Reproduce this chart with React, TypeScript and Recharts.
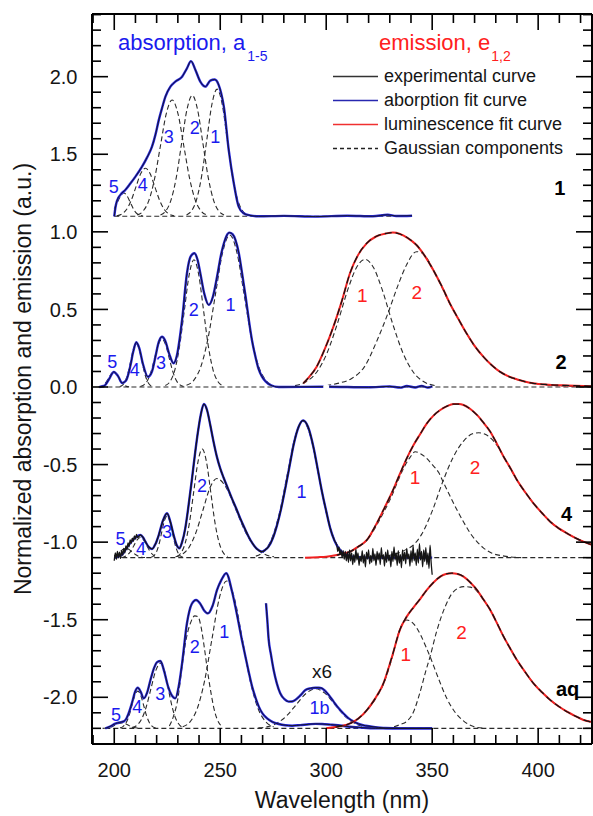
import { ComposedChart, Line, Scatter, XAxis, YAxis } from 'recharts'

type Pt = [number, number]
type Lbl = [number, number, string]

const FONT = '"Liberation Sans", Arial, Helvetica, sans-serif'
const BLUE_LINE = '#2424e0'
const BLUE_TEXT = '#1a1aee'
const RED_LINE = '#f02020'
const RED_TEXT = '#ff2020'
const INK = '#151515'
const DASH = '#2a2a2a'

// vertical offsets of the stacked spectra (1, 2, 4, aq)
const OFF_1 = 1.1
const OFF_2 = 0
const OFF_4 = -1.1
const OFF_AQ = -2.2

const X_DOMAIN: [number, number] = [189.5, 425.4]
const Y_DOMAIN: [number, number] = [-2.301, 2.404]

const xMajor = [200, 250, 300, 350, 400]
const xMinor = [190, 200, 210, 220, 230, 240, 250, 260, 270, 280, 290, 300, 310, 320, 330, 340, 350, 360, 370, 380, 390, 400, 410, 420]
const yMajor = [-2, -1.5, -1, -0.5, 0, 0.5, 1, 1.5, 2]
const yMinor = [-2.3, -2.2, -2.1, -2, -1.9, -1.8, -1.7, -1.6, -1.5, -1.4, -1.3, -1.2, -1.1, -1, -0.9, -0.8, -0.7, -0.6, -0.5, -0.4, -0.3, -0.2, -0.1, 0, 0.1, 0.2, 0.3, 0.4, 0.5, 0.6, 0.7, 0.8, 0.9, 1, 1.1, 1.2, 1.3, 1.4, 1.5, 1.6, 1.7, 1.8, 1.9, 2, 2.1, 2.2, 2.3, 2.4]

// ---- sample 1 (absorption only), heights above its baseline
const p1Fit: Pt[] = [[200, 0], [200.6, 0.06], [201.3, 0.1], [203, 0.14], [205.2, 0.17], [207.5, 0.21], [210, 0.256], [213.1, 0.32], [215.5, 0.38], [217.8, 0.449], [219.5, 0.53], [221, 0.62], [222.6, 0.7], [224.1, 0.77], [226.5, 0.836], [228.8, 0.868], [232, 0.9], [234.3, 0.954], [236.2, 1.0], [238.3, 0.943], [240.6, 0.868], [243, 0.836], [245.3, 0.875], [247.4, 0.882], [249.3, 0.846], [250.5, 0.79], [251.7, 0.707], [254, 0.428], [256.4, 0.213], [258.7, 0.062], [261, 0.02], [264, 0.006], [268, 0], [280, 0.003], [295, -0.002], [310, 0.004], [322, 0], [329, 0.01], [333, 0.002], [340.5, 0.004]]
const p1C1: Pt[] = [[234.1, 0.009], [236.5, 0.036], [238.9, 0.111], [241.3, 0.266], [243.7, 0.497], [246.1, 0.724], [248.5, 0.82], [250.9, 0.724], [253.3, 0.497], [255.7, 0.266], [258.1, 0.111], [260.5, 0.036], [262.9, 0.009]]
const p1C2: Pt[] = [[221.8, 0.009], [224.3, 0.034], [226.8, 0.106], [229.3, 0.253], [231.8, 0.473], [234.3, 0.688], [236.8, 0.78], [239.3, 0.688], [241.8, 0.473], [244.3, 0.253], [246.8, 0.106], [249.3, 0.034], [251.8, 0.009]]
const p1C3: Pt[] = [[210.8, 0.008], [213.55, 0.033], [216.3, 0.101], [219.05, 0.244], [221.8, 0.455], [224.55, 0.662], [227.3, 0.75], [230.05, 0.662], [232.8, 0.455], [235.55, 0.244], [238.3, 0.101], [241.05, 0.033], [243.8, 0.008]]
const p1C4: Pt[] = [[201.2, 0.003], [203.45, 0.014], [205.7, 0.042], [207.95, 0.101], [210.2, 0.188], [212.45, 0.274], [214.7, 0.31], [216.95, 0.274], [219.2, 0.188], [221.45, 0.101], [223.7, 0.042], [225.95, 0.014], [228.2, 0.003]]
const p1C5: Pt[] = [[200, 0.049], [201.5, 0.091], [203, 0.132], [204.5, 0.15], [206, 0.132], [207.5, 0.091], [209, 0.049], [210.5, 0.02], [213.5, 0.002]]
const p1Base: Pt[] = [[200, 0], [340.5, 0]]

// ---- sample 2
const p2Fit: Pt[] = [[193, 0], [195.5, 0.01], [197.5, 0.05], [199.8, 0.097], [201.8, 0.07], [203.7, 0.026], [205.5, 0.04], [207.5, 0.13], [209, 0.23], [210.4, 0.288], [211.8, 0.25], [213.5, 0.15], [215.9, 0.066], [217.8, 0.1], [219.5, 0.2], [221, 0.29], [222.5, 0.324], [224, 0.3], [226, 0.21], [228, 0.153], [229.5, 0.2], [232, 0.432], [234.3, 0.733], [236, 0.84], [237.8, 0.862], [239.3, 0.82], [240.6, 0.733], [242.5, 0.6], [244.6, 0.529], [246.5, 0.58], [248.5, 0.711], [250.5, 0.86], [251.7, 0.925], [253, 0.975], [254.3, 0.995], [255.8, 0.985], [257.2, 0.947], [258.8, 0.86], [260.3, 0.733], [262, 0.58], [263.5, 0.432], [265, 0.3], [266.6, 0.196], [268, 0.12], [269.7, 0.067], [271.5, 0.035], [273.7, 0.013], [277.6, 0], [300, 0.002], [320, -0.002], [330, 0.004], [335, -0.004], [338, 0.006], [342, -0.003], [345, 0.007], [348, -0.004], [350, 0.005]]
const p2C1: Pt[] = [[234.1, 0.011], [237.5, 0.043], [240.9, 0.133], [244.3, 0.318], [247.7, 0.594], [251.1, 0.865], [254.5, 0.98], [257.9, 0.865], [261.3, 0.594], [264.7, 0.318], [268.1, 0.133], [271.5, 0.043], [274.9, 0.011]]
const p2C2: Pt[] = [[224.1, 0.009], [226.35, 0.036], [228.6, 0.111], [230.85, 0.266], [233.1, 0.497], [235.35, 0.724], [237.6, 0.82], [239.85, 0.724], [242.1, 0.497], [244.35, 0.266], [246.6, 0.111], [248.85, 0.036], [251.1, 0.009]]
const p2C3: Pt[] = [[212.3, 0.003], [214, 0.014], [215.7, 0.042], [217.4, 0.101], [219.1, 0.188], [220.8, 0.274], [222.5, 0.31], [224.2, 0.274], [225.9, 0.188], [227.6, 0.101], [229.3, 0.042], [231, 0.014], [232.7, 0.003]]
const p2C4: Pt[] = [[202.6, 0.003], [203.9, 0.012], [205.2, 0.038], [206.5, 0.091], [207.8, 0.17], [209.1, 0.247], [210.4, 0.28], [211.7, 0.247], [213, 0.17], [214.3, 0.091], [215.6, 0.038], [216.9, 0.012], [218.2, 0.003]]
const p2C5: Pt[] = [[192.6, 0.001], [193.8, 0.004], [195, 0.013], [196.2, 0.031], [197.4, 0.058], [198.6, 0.084], [199.8, 0.095], [201, 0.084], [202.2, 0.058], [203.4, 0.031], [204.6, 0.013], [205.8, 0.004], [207, 0.001]]
const p2Em: Pt[] = [[289.2, 0.024], [292, 0.065], [295.5, 0.131], [299.5, 0.25], [303.4, 0.389], [307.5, 0.56], [311.2, 0.733], [315, 0.85], [319.1, 0.926], [323.5, 0.97], [328.5, 0.99], [331.5, 0.995], [334.8, 0.986], [338.5, 0.96], [342.6, 0.915], [346.5, 0.845], [350.5, 0.754], [354.5, 0.65], [358.3, 0.54], [362.3, 0.44], [366.2, 0.346], [370, 0.265], [374.1, 0.196], [378, 0.142], [381.9, 0.099], [385.8, 0.07], [389.8, 0.05], [393.6, 0.035], [397.6, 0.024], [405, 0.015], [413.3, 0.01], [425.9, 0.005]]
const p2E1: Pt[] = [[285.3, 0.009], [290.3, 0.032], [295.3, 0.092], [300.3, 0.216], [305.3, 0.41], [310.3, 0.632], [314.3, 0.77], [318.3, 0.823], [322.3, 0.77], [326.3, 0.632], [331.3, 0.41], [336.3, 0.216], [341.3, 0.092], [346.3, 0.032], [351.3, 0.009]]
const p2E2: Pt[] = [[300, 0.01], [306, 0.025], [312, 0.055], [318, 0.13], [324, 0.3], [329, 0.47], [334, 0.66], [338, 0.79], [342.6, 0.872], [345, 0.865], [348, 0.82], [351, 0.74], [354.5, 0.645], [358.3, 0.538], [362.3, 0.44], [366.2, 0.346], [370, 0.265], [374.1, 0.196], [381.9, 0.099], [389.8, 0.05], [397.6, 0.024], [405, 0.012], [413.3, 0.006], [425, 0.002]]
const p2Base: Pt[] = [[193, 0], [425.9, 0]]

// ---- sample 4
const p4Fit: Pt[] = [[200.2, 0], [202, 0.01], [203.7, 0.02], [205.2, 0.05], [206.8, 0.082], [208.5, 0.11], [210.5, 0.135], [212.3, 0.146], [213.6, 0.13], [214.7, 0.103], [216.2, 0.07], [217.8, 0.056], [219.5, 0.09], [221, 0.146], [223, 0.24], [224.9, 0.286], [226.5, 0.23], [228, 0.146], [229.5, 0.08], [230.7, 0.06], [232, 0.1], [233.5, 0.189], [235, 0.33], [236.7, 0.511], [238.2, 0.68], [239.5, 0.812], [240.8, 0.92], [242.3, 0.99], [243.8, 0.95], [245.3, 0.855], [246.8, 0.75], [248.4, 0.651], [250, 0.575], [251.6, 0.515], [253.5, 0.45], [255.5, 0.382], [257.5, 0.318], [259.4, 0.254], [261.4, 0.193], [263.4, 0.135], [265.3, 0.09], [267.3, 0.056], [269.7, 0.039], [271.2, 0.05], [272.8, 0.071], [274.8, 0.125], [276.8, 0.21], [278.8, 0.32], [280.7, 0.447], [282.7, 0.59], [284.6, 0.726], [287, 0.844], [289.1, 0.885], [291.4, 0.844], [294.1, 0.705], [296, 0.57], [298, 0.425], [300, 0.3], [301.9, 0.189], [303.9, 0.11], [305.9, 0.06], [307.8, 0.032], [309.8, 0.017], [313, 0.005], [320, 0], [350, 0]]
// noisy recorded spectrum, 0.5 nm steps
const p4HeadStart = 200
const p4Head = [-0.02, 0.03, -0.01, 0.04, 0, 0.035, -0.005, 0.045, 0.015, 0.06, 0.03, 0.075, 0.05, 0.095, 0.07, 0.115, 0.09, 0.125, 0.105, 0.14, 0.12, 0.15, 0.13]
const p4TailStart = 305
const p4Tail = [0.08, 0.04, 0.07, 0.02, 0.05, 0, 0.045, -0.01, 0.04, -0.02, 0.035, -0.03, 0.05, -0.02, 0.03, -0.045, 0.02, -0.03, 0.055, -0.015, 0.03, -0.05, 0.01, -0.025, 0.045, -0.035, 0.02, -0.06, 0.035, -0.01, 0.05, -0.04, 0.015, -0.03, 0.06, -0.02, 0.025, -0.05, 0.04, -0.015, 0.03, -0.045, 0.065, -0.01, 0.02, -0.055, 0.035, -0.03, 0.05, -0.02, 0.015, -0.06, 0.04, -0.025, 0.07, -0.015, 0.03, -0.05, 0.045, -0.035, 0.02, -0.065, 0.05, -0.02, 0.035, -0.04, 0.06, -0.01, 0.025, -0.055, 0.045, -0.03, 0.075, -0.02, 0.03, -0.05, 0.055, -0.035, 0.09, -0.015, 0.04, -0.06, 0.05, -0.025, 0.065, -0.045, 0.03, -0.07, 0.08, -0.03, -0.11]
const p4C1: Pt[] = [[266.8, 0.01], [270.5, 0.039], [274.2, 0.119], [277.9, 0.286], [281.6, 0.534], [285.3, 0.777], [289, 0.88], [292.7, 0.777], [296.4, 0.534], [300.1, 0.286], [303.8, 0.119], [307.5, 0.039], [311.2, 0.01]]
const p4C2: Pt[] = [[229.5, 0.008], [231.5, 0.031], [233.5, 0.095], [235.5, 0.227], [237.5, 0.425], [239.5, 0.618], [241.5, 0.7], [243.5, 0.618], [245.5, 0.425], [247.5, 0.227], [249.5, 0.095], [251.5, 0.031], [253.5, 0.008]]
const p4C2b: Pt[] = [[228.9, 0.006], [232.15, 0.022], [235.4, 0.069], [238.65, 0.166], [241.9, 0.309], [245.15, 0.45], [248.4, 0.51], [252.9, 0.45], [257.4, 0.309], [261.9, 0.166], [266.4, 0.069], [270.9, 0.022], [275.4, 0.006]]
const p4C3: Pt[] = [[217.4, 0.003], [218.65, 0.012], [219.9, 0.037], [221.15, 0.088], [222.4, 0.164], [223.65, 0.238], [224.9, 0.27], [226.15, 0.238], [227.4, 0.164], [228.65, 0.088], [229.9, 0.037], [231.15, 0.012], [232.4, 0.003]]
const p4C4: Pt[] = [[203.3, 0.001], [204.8, 0.006], [206.3, 0.018], [207.8, 0.042], [209.3, 0.079], [210.8, 0.115], [212.3, 0.13], [213.8, 0.115], [215.3, 0.079], [216.8, 0.042], [218.3, 0.018], [219.8, 0.006], [221.3, 0.001]]
const p4C5: Pt[] = [[200, 0.011], [201, 0.02], [202.5, 0.036], [204, 0.053], [205.5, 0.06], [207, 0.053], [208.5, 0.036], [210, 0.02], [211.5, 0.008], [213, 0.003], [214.5, 0.001]]
const p4Em: Pt[] = [[290, 0], [296, 0.003], [300, 0.006], [305, 0.017], [308, 0.027], [311.3, 0.039], [315, 0.07], [319.2, 0.114], [323, 0.2], [327, 0.307], [331, 0.42], [334.9, 0.544], [338, 0.64], [341.2, 0.726], [344.5, 0.8], [347.5, 0.866], [350.5, 0.914], [353.8, 0.952], [357, 0.977], [360.1, 0.99], [362.5, 0.99], [364.8, 0.984], [368, 0.958], [371.1, 0.92], [374.2, 0.87], [377.4, 0.812], [380.5, 0.735], [383.7, 0.651], [387, 0.575], [390, 0.5], [394, 0.42], [397.8, 0.35], [401.8, 0.288], [405.7, 0.232], [409.6, 0.19], [413.6, 0.157], [417.5, 0.128], [421.4, 0.103], [425.9, 0.08]]
const p4E1: Pt[] = [[300, 0.006], [305, 0.015], [311, 0.037], [315, 0.068], [319, 0.11], [323, 0.19], [327, 0.29], [331, 0.4], [334, 0.5], [337, 0.59], [339.5, 0.645], [342, 0.683], [344.5, 0.67], [347, 0.645], [350, 0.6], [353, 0.55], [355.1, 0.49], [358.3, 0.4], [361.6, 0.31], [365, 0.225], [368, 0.157], [371, 0.105], [374, 0.065], [378, 0.03], [384, 0.01], [392, 0]]
const p4E2: Pt[] = [[325, 0.005], [330, 0.015], [335, 0.035], [338, 0.055], [341, 0.08], [345, 0.15], [350, 0.3], [355, 0.49], [360, 0.65], [365, 0.755], [369, 0.798], [372, 0.805], [375, 0.795], [378, 0.765], [381, 0.715], [384, 0.645], [387, 0.57], [390, 0.5], [394, 0.42], [397.8, 0.35], [401.8, 0.288], [405.7, 0.232], [409.6, 0.19], [413.6, 0.157], [417.5, 0.128], [421.4, 0.103], [425.9, 0.08]]
const p4Base: Pt[] = [[200, 0], [425.9, 0]]

// ---- aqueous sample
const aqFit: Pt[] = [[195.8, 0], [198, 0.012], [200.5, 0.03], [202.5, 0.038], [204.5, 0.045], [205.8, 0.065], [206.8, 0.097], [208.5, 0.17], [209.8, 0.235], [211.1, 0.262], [212.5, 0.235], [213.9, 0.193], [215.5, 0.23], [217.05, 0.31], [218.8, 0.39], [220.3, 0.428], [221.8, 0.434], [223.5, 0.37], [225.4, 0.269], [227, 0.215], [228.8, 0.193], [230.4, 0.27], [232, 0.419], [234.3, 0.677], [236.5, 0.8], [238.6, 0.827], [240.5, 0.805], [242.4, 0.76], [244.2, 0.741], [246.4, 0.79], [248.5, 0.892], [250.5, 0.955], [252.8, 1.0], [255.6, 0.88], [257.2, 0.78], [258.7, 0.677], [260.3, 0.565], [261.9, 0.462], [263.5, 0.36], [265.05, 0.269], [266.6, 0.2], [268.2, 0.14], [270, 0.095], [272.1, 0.064], [274.8, 0.04], [277.6, 0.028], [280.7, 0.02], [283.9, 0.017], [287.8, 0.021], [291.8, 0.026], [295, 0.029], [298, 0.028], [302, 0.024], [307.5, 0.017], [311, 0.01], [315.3, 0.006], [323.2, 0], [350, 0]]
const aqX6: Pt[] = [[271.6, 0.806], [272.2, 0.7], [272.8, 0.58], [274, 0.47], [275.2, 0.376], [276.7, 0.29], [278.3, 0.226], [280.3, 0.188], [282.3, 0.172], [283.9, 0.173], [285.4, 0.183], [287.8, 0.212], [290.2, 0.247], [292.6, 0.258], [294.9, 0.262], [296.5, 0.262], [298, 0.258], [299.6, 0.24], [301.2, 0.215], [303.5, 0.172], [305.9, 0.129], [308.2, 0.095], [310.6, 0.064], [313, 0.043], [315.3, 0.028], [318.5, 0.017], [321.6, 0.011], [327.9, 0.002], [335, 0], [350, 0]]
const aqC1: Pt[] = [[232.3, 0.01], [235.75, 0.042], [239.2, 0.129], [242.65, 0.308], [246.1, 0.576], [249.55, 0.838], [253, 0.95], [256.7, 0.838], [260.4, 0.576], [264.1, 0.308], [267.8, 0.129], [271.5, 0.042], [275.2, 0.01]]
const aqC1b: Pt[] = [[268, 0.003], [272.5, 0.011], [277, 0.035], [281.5, 0.083], [286, 0.155], [290.5, 0.225], [295, 0.255], [299.5, 0.225], [304, 0.155], [308.5, 0.083], [313, 0.035], [317.5, 0.011], [322, 0.003]]
const aqC2: Pt[] = [[226, 0.015], [228, 0.08], [230, 0.19], [232, 0.4], [234, 0.58], [236, 0.68], [238, 0.725], [239.5, 0.72], [241, 0.65], [242.5, 0.52], [244, 0.37], [245.5, 0.24], [247, 0.13], [248.5, 0.06], [250.5, 0.015]]
const aqC3: Pt[] = [[208.3, 0.005], [210.55, 0.018], [212.8, 0.057], [215.05, 0.136], [217.3, 0.255], [219.55, 0.371], [221.8, 0.42], [223.65, 0.371], [225.5, 0.255], [227.35, 0.136], [229.2, 0.057], [231.05, 0.018], [232.9, 0.005]]
const aqC4: Pt[] = [[202.7, 0.003], [204.1, 0.011], [205.5, 0.033], [206.9, 0.078], [208.3, 0.146], [209.7, 0.212], [211.1, 0.24], [212.5, 0.212], [213.9, 0.146], [215.3, 0.078], [216.7, 0.033], [218.1, 0.011], [219.5, 0.003]]
const aqC5: Pt[] = [[194.5, 0], [196, 0.002], [197.5, 0.005], [199, 0.011], [200.5, 0.021], [202, 0.031], [203.5, 0.035], [205, 0.031], [206.5, 0.021], [208, 0.011], [209.5, 0.005], [211, 0.002], [212.5, 0]]
const aqEm: Pt[] = [[300, 0], [304.4, 0.008], [307.5, 0.016], [311.3, 0.032], [315.3, 0.065], [319.2, 0.118], [323, 0.19], [327, 0.29], [331, 0.46], [334.9, 0.64], [338, 0.72], [341.2, 0.78], [344.4, 0.835], [347.5, 0.892], [350.6, 0.94], [353.8, 0.978], [356.5, 0.995], [359.3, 1.0], [362, 0.995], [364.8, 0.978], [368, 0.94], [371.1, 0.892], [374.2, 0.83], [377.4, 0.763], [380.5, 0.68], [383.7, 0.591], [386.8, 0.515], [390, 0.44], [394, 0.36], [397.8, 0.29], [401.8, 0.232], [405.7, 0.183], [409.6, 0.142], [413.6, 0.107], [417.5, 0.079], [421.4, 0.054], [425.9, 0.039]]
const aqE1: Pt[] = [[300, 0], [304.4, 0.008], [307.5, 0.016], [311.3, 0.031], [315.3, 0.063], [319.2, 0.115], [323, 0.185], [327, 0.285], [331, 0.45], [334.9, 0.645], [338, 0.698], [341, 0.677], [344.5, 0.603], [347, 0.527], [349, 0.462], [353, 0.32], [357, 0.19], [361, 0.1], [365, 0.045], [369.5, 0.012], [375, 0]]
const aqE2: Pt[] = [[332, 0.01], [335, 0.025], [338, 0.045], [341, 0.1], [344, 0.22], [347, 0.37], [349, 0.462], [352, 0.62], [356, 0.78], [360, 0.88], [364.8, 0.913], [368, 0.91], [371.1, 0.885], [374.2, 0.83], [377.4, 0.763], [380.5, 0.68], [383.7, 0.591], [386.8, 0.515], [390, 0.44], [394, 0.36], [397.8, 0.29], [401.8, 0.232], [405.7, 0.183], [409.6, 0.142], [413.6, 0.107], [417.5, 0.079], [421.4, 0.054], [425.9, 0.039]]
const aqBase: Pt[] = [[195.8, 0], [425.9, 0]]

// ---- annotations, in axis units
const absLabels: Lbl[] = [
  [199.8, 1.291, '5'], [213.4, 1.302, '4'], [225.7, 1.613, '3'], [238, 1.669, '2'], [247.7, 1.613, '1'],
  [199, 0.163, '5'], [209.7, 0.11, '4'], [222.1, 0.157, '3'], [237.5, 0.496, '2'], [254.8, 0.529, '1'],
  [202.9, -0.98, '5'], [212.6, -1.044, '4'], [224.9, -0.937, '3'], [241.4, -0.636, '2'], [288.3, -0.675, '1'],
  [200.8, -2.114, '5'], [210.8, -2.06, '4'], [221.7, -1.981, '3'], [238, -1.678, '2'], [251.9, -1.577, '1'], [296.9, -2.071, '1b'],
]
const emLabels: Lbl[] = [
  [317, 0.587, '1'], [342.7, 0.608, '2'],
  [341.9, -0.582, '1'], [370.2, -0.518, '2'],
  [337.6, -1.721, '1'], [363.9, -1.581, '2'],
]
const sampleLabels: Lbl[] = [[410.2, 1.281, '1'], [410.8, 0.163, '2'], [413.4, -0.819, '4'], [413.9, -1.946, 'aq']]
const noteLabels: Lbl[] = [[298, -1.835, 'x6']]

const grid = (x0: number, ys: number[]): Pt[] => ys.map((y, i) => [x0 + i * 0.5, y])
const p4Exp: Pt[] = [...grid(p4HeadStart, p4Head), ...p4Fit.filter(([x]) => x > 211 && x < 305), ...grid(p4TailStart, p4Tail)]

const rows = (pts: Pt[], off: number) => pts.map(([x, y]) => ({ x, y: y + off }))
const labelRows = (l: Lbl[]) => l.map(([x, y, t]) => ({ x, y, t }))

const dashedSets: Array<[Pt[], number]> = [
  [p1Base, OFF_1], [p1C1, OFF_1], [p1C2, OFF_1], [p1C3, OFF_1], [p1C4, OFF_1], [p1C5, OFF_1],
  [p2Base, OFF_2], [p2C1, OFF_2], [p2C2, OFF_2], [p2C3, OFF_2], [p2C4, OFF_2], [p2C5, OFF_2], [p2E1, OFF_2], [p2E2, OFF_2],
  [p4Base, OFF_4], [p4C1, OFF_4], [p4C2, OFF_4], [p4C2b, OFF_4], [p4C3, OFF_4], [p4C4, OFF_4], [p4C5, OFF_4], [p4E1, OFF_4], [p4E2, OFF_4],
  [aqBase, OFF_AQ], [aqC1, OFF_AQ], [aqC1b, OFF_AQ], [aqC2, OFF_AQ], [aqC3, OFF_AQ], [aqC4, OFF_AQ], [aqC5, OFF_AQ], [aqE1, OFF_AQ], [aqE2, OFF_AQ],
]
const absFits: Array<[Pt[], number]> = [[p1Fit, OFF_1], [p2Fit, OFF_2], [p4Fit, OFF_4], [aqFit, OFF_AQ], [aqX6, OFF_AQ]]
const absExp: Array<[Pt[], number]> = [[p1Fit, OFF_1], [p2Fit, OFF_2], [p4Exp, OFF_4], [aqFit, OFF_AQ], [aqX6, OFF_AQ]]
const emFits: Array<[Pt[], number]> = [[p2Em, OFF_2], [p4Em, OFF_4], [aqEm, OFF_AQ]]
const emExp: Array<[Pt[], number]> = [[p2Em, OFF_2], [p4Em.filter(([x]) => x >= 305), OFF_4], [aqEm.filter(([x]) => x >= 304), OFF_AQ]]

const lineBase = {
  xAxisId: 'x',
  yAxisId: 'y',
  dataKey: 'y',
  type: 'monotone' as const,
  dot: false,
  activeDot: false,
  isAnimationActive: false,
}

// plot rectangle set by the chart margins and axis sizes below
const PLOT = { left: 92, right: 592, top: 14, bottom: 744 }
const MAJOR_LEN = 16
const MINOR_LEN = 9
const px = (v: number) => PLOT.left + ((v - X_DOMAIN[0]) / (X_DOMAIN[1] - X_DOMAIN[0])) * (PLOT.right - PLOT.left)
const py = (v: number) => PLOT.top + ((Y_DOMAIN[1] - v) / (Y_DOMAIN[1] - Y_DOMAIN[0])) * (PLOT.bottom - PLOT.top)

const makeText = (fill: string, size: number, weight: number) => (p: any) => (
  <text x={p.cx} y={p.cy} textAnchor="middle" dominantBaseline="central" fill={fill} fontSize={size} fontWeight={weight} fontFamily={FONT}>
    {p.payload.t}
  </text>
)

const legendRows = [
  { name: 'experimental curve', color: '#333', dash: undefined },
  { name: 'aborption fit curve', color: '#2727b0', dash: undefined },
  { name: 'luminescence fit curve', color: '#f03030', dash: undefined },
  { name: 'Gaussian components', color: '#222', dash: '4 3' },
]

const frame = { stroke: '#000', strokeWidth: 2 }

export default function App() {
  return (
    <div style={{ position: 'absolute', left: 0, top: 0, width: 593, height: 816, background: '#fff' }}>
      <ComposedChart width={593} height={816} margin={{ top: 13, right: 0, bottom: 0, left: 0 }}>
        <XAxis
          xAxisId="x"
          type="number"
          dataKey="x"
          domain={X_DOMAIN}
          allowDataOverflow
          ticks={xMajor}
          interval={0}
          height={72}
          tickLine={false}
          tickSize={6}
          tickMargin={13}
          axisLine={frame}
          tick={{ fontSize: 20, fill: INK, fontFamily: FONT }}
          label={{ value: 'Wavelength (nm)', position: 'insideBottom', offset: 8, fontSize: 23, fill: INK, fontFamily: FONT }}
        />
        <XAxis xAxisId="top" orientation="top" type="number" dataKey="x" domain={X_DOMAIN} allowDataOverflow ticks={xMajor} height={1} tickLine={false} tick={false} axisLine={frame} />
        <YAxis
          yAxisId="y"
          type="number"
          dataKey="y"
          domain={Y_DOMAIN}
          allowDataOverflow
          ticks={yMajor}
          interval={0}
          width={92}
          tickLine={false}
          tickSize={6}
          tickMargin={8.5}
          tickFormatter={(v: number) => v.toFixed(1)}
          axisLine={frame}
          tick={{ fontSize: 20, fill: INK, fontFamily: FONT }}
          label={{
            value: 'Normalized absorption and emission (a.u.)',
            angle: -90,
            position: 'insideLeft',
            offset: 23,
            fontSize: 23,
            fill: INK,
            fontFamily: FONT,
            style: { textAnchor: 'middle' },
          }}
        />
        <YAxis yAxisId="right" orientation="right" type="number" dataKey="y" domain={Y_DOMAIN} allowDataOverflow ticks={yMajor} width={1} tickLine={false} tick={false} axisLine={frame} />

        <Line xAxisId="top" yAxisId="right" data={[{ x: 300, y: 0 }]} dataKey="y" stroke="none" dot={false} activeDot={false} isAnimationActive={false} />

        {dashedSets.map(([pts, off], i) => (
          <Line key={`d${i}`} {...lineBase} data={rows(pts, off)} stroke={DASH} strokeWidth={1.1} strokeDasharray="5 3" />
        ))}
        {absFits.map(([pts, off], i) => (
          <Line key={`af${i}`} {...lineBase} data={rows(pts, off)} stroke={BLUE_LINE} strokeWidth={2.4} />
        ))}
        {emFits.map(([pts, off], i) => (
          <Line key={`ef${i}`} {...lineBase} data={rows(pts, off)} stroke={RED_LINE} strokeWidth={2} />
        ))}
        {absExp.map(([pts, off], i) => (
          <Line key={`ax${i}`} {...lineBase} data={rows(pts, off)} stroke={INK} strokeWidth={i === 2 ? 1.3 : 0.9} />
        ))}
        {emExp.map(([pts, off], i) => (
          <Line key={`ex${i}`} {...lineBase} data={rows(pts, off)} stroke={INK} strokeWidth={1.3} strokeDasharray="7 4" />
        ))}

        <Scatter xAxisId="x" yAxisId="y" dataKey="y" data={labelRows(absLabels)} isAnimationActive={false} shape={makeText(BLUE_TEXT, 18, 400)} />
        <Scatter xAxisId="x" yAxisId="y" dataKey="y" data={labelRows(emLabels)} isAnimationActive={false} shape={makeText(RED_TEXT, 19, 400)} />
        <Scatter xAxisId="x" yAxisId="y" dataKey="y" data={labelRows(sampleLabels)} isAnimationActive={false} shape={makeText('#000', 20, 700)} />
        <Scatter xAxisId="x" yAxisId="y" dataKey="y" data={labelRows(noteLabels)} isAnimationActive={false} shape={makeText(INK, 19, 400)} />
      </ComposedChart>

      <svg width={593} height={816} style={{ position: 'absolute', left: 0, top: 0, pointerEvents: 'none' }}>
        {/* inward tick marks on all four sides */}
        <g stroke="#000" strokeWidth={1.6}>
          {xMinor.map((v) => {
            const len = xMajor.includes(v) ? MAJOR_LEN : MINOR_LEN
            const x = px(v)
            return (
              <g key={`xt${v}`}>
                <line x1={x} x2={x} y1={PLOT.bottom} y2={PLOT.bottom - len} />
                <line x1={x} x2={x} y1={PLOT.top} y2={PLOT.top + len} />
              </g>
            )
          })}
          {yMinor.map((v) => {
            const len = yMajor.includes(v) ? MAJOR_LEN : MINOR_LEN
            const y = py(v)
            return (
              <g key={`yt${v}`}>
                <line x1={PLOT.left} x2={PLOT.left + len} y1={y} y2={y} />
                <line x1={PLOT.right} x2={PLOT.right - len} y1={y} y2={y} />
              </g>
            )
          })}
        </g>
        <text x={118} y={50} fill={BLUE_TEXT} fontSize={22} fontFamily={FONT}>
          absorption, a<tspan fontSize={14} dx={2} dy={11}>1-5</tspan>
        </text>
        <text x={379} y={50} fill={RED_TEXT} fontSize={22} fontFamily={FONT}>
          emission, e<tspan fontSize={14} dx={1} dy={11}>1,2</tspan>
        </text>
        {legendRows.map((r, i) => (
          <g key={r.name}>
            <line x1={333} x2={378} y1={76.5 + i * 24} y2={76.5 + i * 24} stroke={r.color} strokeWidth={1.3} strokeDasharray={r.dash} />
            <text x={384} y={82 + i * 24} fill={INK} fontSize={18} fontFamily={FONT}>
              {r.name}
            </text>
          </g>
        ))}
      </svg>
    </div>
  )
}
